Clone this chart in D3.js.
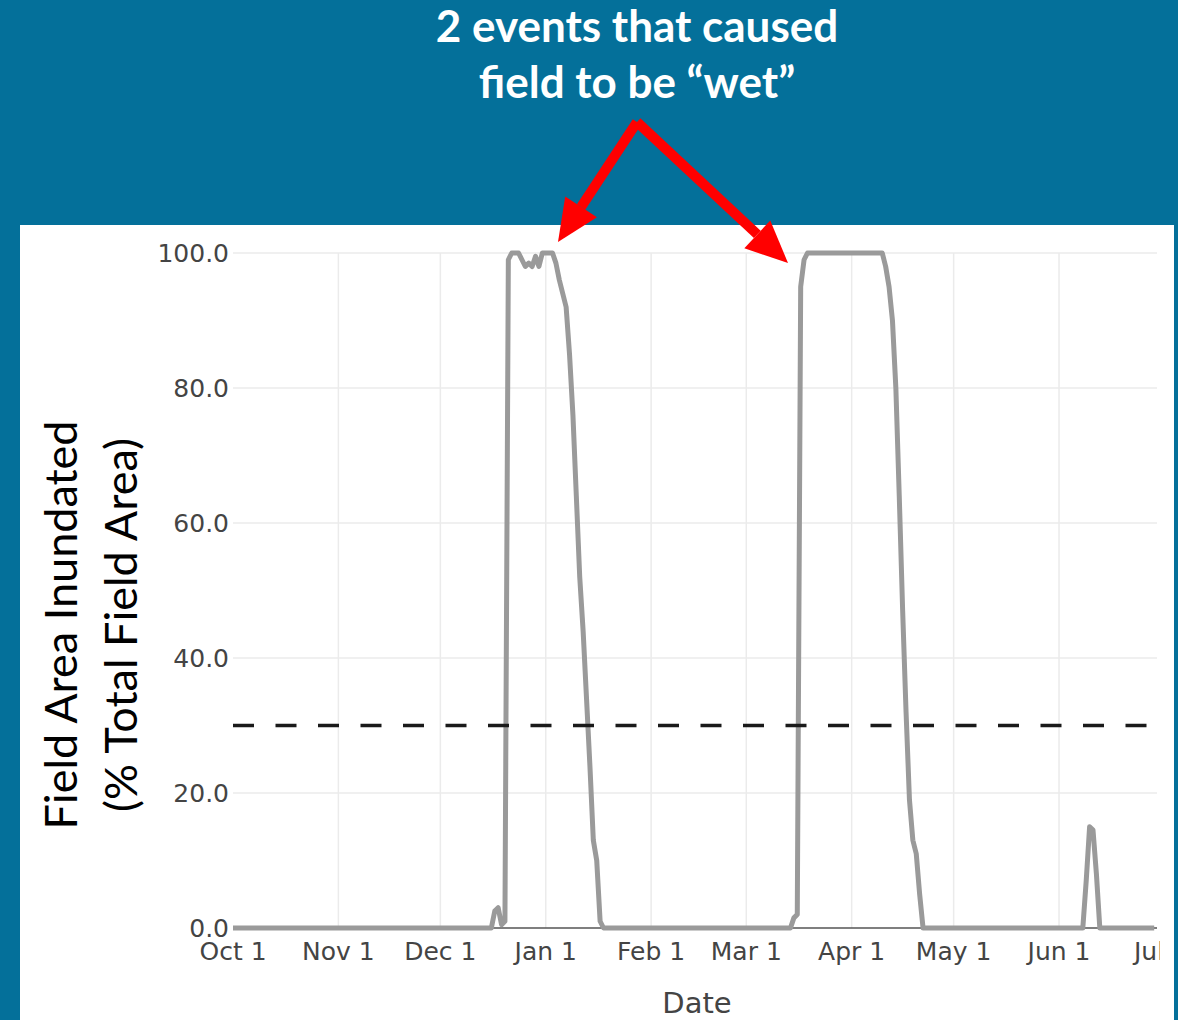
<!DOCTYPE html>
<html>
<head>
<meta charset="utf-8">
<script src="https://cdn.jsdelivr.net/npm/d3@7"></script>
<style>
  body { margin: 0; background: #04709a; }
  svg { display: block; }
</style>
</head>
<body>
<div id="container"></div>
<script>
/* DATA */
const dates = [
  "2018-10-01", "2018-12-16", "2018-12-17", "2018-12-18", "2018-12-19", "2018-12-20",
  "2018-12-21", "2018-12-22", "2018-12-23", "2018-12-24", "2018-12-25", "2018-12-26",
  "2018-12-27", "2018-12-28", "2018-12-29", "2018-12-30", "2018-12-31",
  "2019-01-01", "2019-01-02", "2019-01-03", "2019-01-04", "2019-01-05", "2019-01-06",
  "2019-01-07", "2019-01-08", "2019-01-09", "2019-01-10", "2019-01-11", "2019-01-12",
  "2019-01-13", "2019-01-14", "2019-01-15", "2019-01-16", "2019-01-17", "2019-01-18",
  "2019-03-14", "2019-03-15", "2019-03-16", "2019-03-17", "2019-03-18", "2019-03-19",
  "2019-04-10", "2019-04-11", "2019-04-12", "2019-04-13", "2019-04-14", "2019-04-15",
  "2019-04-16", "2019-04-17", "2019-04-18", "2019-04-19", "2019-04-20", "2019-04-21",
  "2019-04-22",
  "2019-06-08", "2019-06-09", "2019-06-10", "2019-06-11", "2019-06-12", "2019-06-13",
  "2019-06-29"
]
const inundated = [
  0, 0, 2.5, 3, 0.5, 1,
  99, 100, 100, 100, 99, 98,
  98.5, 98, 99.5, 98, 100,
  100, 100, 100, 98.5, 96, 94,
  92, 85, 76, 64, 52, 44,
  34, 24, 13, 10, 1, 0,
  0, 1.5, 2, 95, 99, 100,
  100, 98, 95, 90, 80, 64,
  47, 32, 19, 13, 11, 5,
  0,
  0, 7, 15, 14.5, 8, 0,
  0
]
const wetThreshold = 30
const yTicks = [0, 20, 40, 60, 80, 100]
const monthTicks = ["2018-10-01", "2018-11-01", "2018-12-01", "2019-01-01", "2019-02-01",
  "2019-03-01", "2019-04-01", "2019-05-01", "2019-06-01", "2019-07-01"]
const titleLines = ["2 events that caused", "field to be \u201cwet\u201d"]
const yTitleLines = ["Field Area Inundated", "(% Total Field Area)"]

const W = 1178, H = 1020
const parse = d3.timeParse("%Y-%m-%d")
const data = dates.map((d, i) => ({date: parse(d), value: inundated[i]}))

const svg = d3.select("#container").append("svg")
  .attr("width", W).attr("height", H)

svg.append("rect").attr("width", W).attr("height", H).attr("fill", "#04709a")
svg.append("rect").attr("x", 20).attr("y", 225).attr("width", 1154).attr("height", 795)
  .attr("fill", "#fff")

svg.append("clipPath").attr("id", "clip")
  .append("rect").attr("x", 0).attr("y", 225).attr("width", 1160).attr("height", 795)

// SCALES
const xScale = d3.scaleTime()
  .domain([parse("2018-10-01"), parse("2019-07-01")])
  .range([233, 1161])
const yScale = d3.scaleLinear().domain([0, 100]).range([928, 253])
const x0 = 233, x1 = 1157

const g = svg.append("g").attr("clip-path", "url(#clip)")

// gridlines
g.selectAll(".vgrid").data(monthTicks.slice(1, -1))
  .join("line").attr("class", "vgrid")
  .attr("x1", d => xScale(parse(d))).attr("x2", d => xScale(parse(d)))
  .attr("y1", yScale(100)).attr("y2", yScale(0))
  .attr("stroke", "#ebebeb").attr("stroke-width", 1.5)
g.selectAll(".hgrid").data(yTicks.slice(1))
  .join("line").attr("class", "hgrid")
  .attr("x1", x0).attr("x2", x1)
  .attr("y1", d => yScale(d)).attr("y2", d => yScale(d))
  .attr("stroke", "#ebebeb").attr("stroke-width", 1.5)

// zero line
g.append("line").attr("x1", x0).attr("x2", x1)
  .attr("y1", yScale(0)).attr("y2", yScale(0))
  .attr("stroke", "#555").attr("stroke-width", 1.5)

// y tick labels
g.selectAll(".ytick").data(yTicks)
  .join("text").attr("class", "ytick")
  .attr("x", 229).attr("y", d => yScale(d)).attr("dy", "0.36em")
  .attr("text-anchor", "end")
  .style("font-family", "DejaVu Sans").style("font-size", "25px").style("fill", "#444")
  .text(d => d3.format(".1f")(d))

// x tick labels
g.selectAll(".xtick").data(monthTicks)
  .join("text").attr("class", "xtick")
  .attr("x", d => xScale(parse(d))).attr("y", 960)
  .attr("text-anchor", "middle")
  .style("font-family", "DejaVu Sans").style("font-size", "25px").style("fill", "#444")
  .text(d => d3.timeFormat("%b %-d")(parse(d)))

// data line
const line = d3.line().x(d => xScale(d.date)).y(d => yScale(d.value))
g.append("path").datum(data)
  .attr("fill", "none").attr("stroke", "#9a9a9a").attr("stroke-width", 5)
  .attr("stroke-linejoin", "round")
  .attr("d", line)

// threshold
g.append("line").attr("x1", x0).attr("x2", x1)
  .attr("y1", yScale(wetThreshold)).attr("y2", yScale(wetThreshold))
  .attr("stroke", "#1a1a1a").attr("stroke-width", 3.5).attr("stroke-dasharray", "21,21.5")

// axis titles
svg.append("text").attr("x", 697).attr("y", 1013).attr("text-anchor", "middle")
  .style("font-family", "DejaVu Sans").style("font-size", "29px").style("fill", "#444")
  .text("Date")

svg.selectAll(".ytitle").data(yTitleLines)
  .join("text").attr("class", "ytitle")
  .attr("transform", (d, i) => "translate(" + (77 + i * 60) + ",625) rotate(-90)")
  .attr("text-anchor", "middle")
  .style("font-family", "Lato").style("font-size", "45px").style("fill", "#000")
  .text(d => d)

// title
svg.selectAll(".title").data(titleLines)
  .join("text").attr("class", "title")
  .attr("x", 637).attr("y", (d, i) => 42 + i * 56)
  .attr("text-anchor", "middle")
  .style("font-family", "Lato").style("font-weight", "bold").style("font-size", "44px")
  .style("fill", "#fff")
  .text(d => d)

// arrows
function arrow(sx, sy, tx, ty) {
  const ang = Math.atan2(ty - sy, tx - sx), len = 42, half = 19
  const bx = tx - len * Math.cos(ang), by = ty - len * Math.sin(ang)
  const px = -Math.sin(ang), py = Math.cos(ang)
  svg.append("line").attr("x1", sx).attr("y1", sy).attr("x2", bx).attr("y2", by)
    .attr("stroke", "#ff0000").attr("stroke-width", 10)
  svg.append("path")
    .attr("d", "M" + tx + "," + ty + "L" + (bx + px * half) + "," + (by + py * half) +
      "L" + (bx - px * half) + "," + (by - py * half) + "Z")
    .attr("fill", "#ff0000")
}
arrow(637, 122, 558, 242)
arrow(637, 122, 788, 263)
</script>
</body>
</html>
